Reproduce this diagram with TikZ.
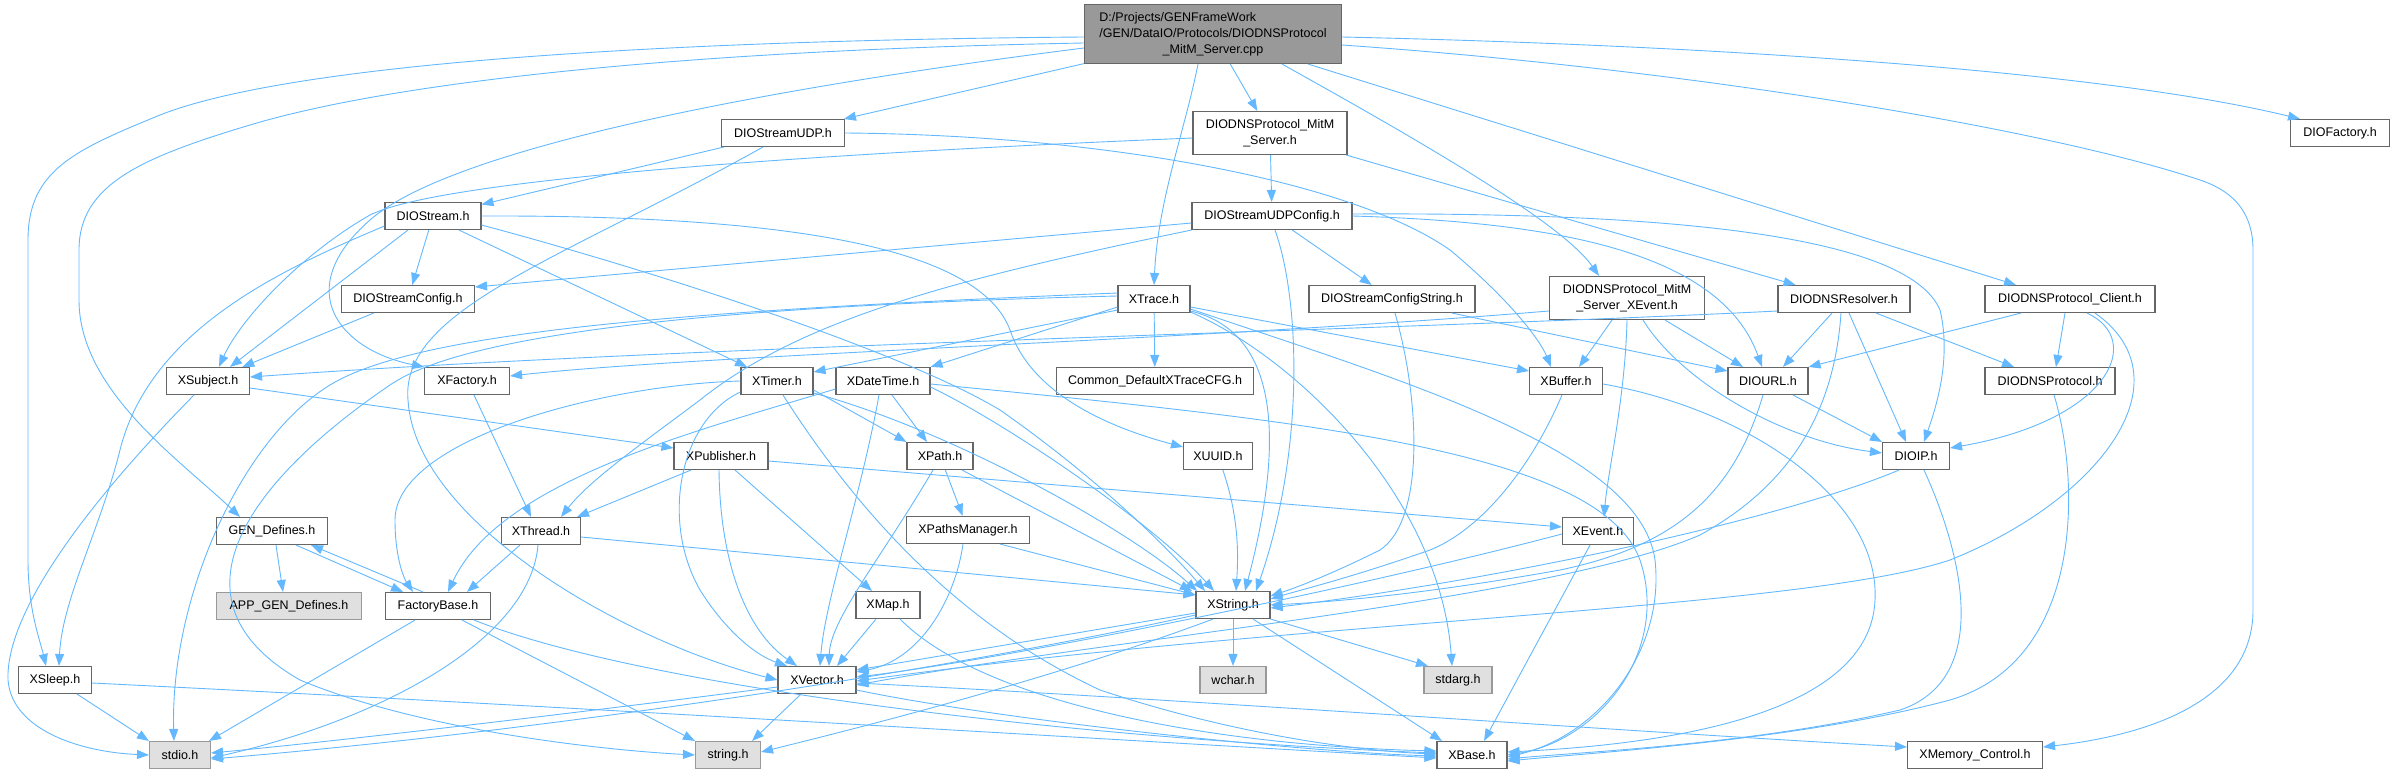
\documentclass[tikz,border=0pt]{standalone}
\usepackage{fontspec}
\setmainfont{Liberation Sans}
\usetikzlibrary{arrows.meta}
\definecolor{edgec}{HTML}{63B8FF}
\definecolor{nodeb}{HTML}{666666}
\definecolor{extb}{HTML}{999999}
\definecolor{extf}{HTML}{E0E0E0}
\definecolor{mainf}{HTML}{999999}
\tikzset{
 nb/.style={draw=nodeb, fill=white, line width=1.1pt, inner sep=0pt, minimum height=27pt, font=\fontsize{12.5}{16}\selectfont, align=center},
 gb/.style={nb, draw=extb, fill=extf},
 mb/.style={nb, fill=mainf},
 e/.style={draw=edgec, line width=0.9pt, -{Triangle[length=12pt,width=9pt]}},
}
\begin{document}
\begin{tikzpicture}[x=1pt,y=-1pt]
\useasboundingbox (0,0) rectangle (2395,773);
% nodes
\node[mb, minimum width=257pt, minimum height=59pt] (main) at (1213,34) {\begin{tabular}{@{}l@{}}D:/Projects/GENFrameWork\\/GEN/DataIO/Protocols/DIODNSProtocol\\\multicolumn{1}{@{}c@{}}{\_MitM\_Server.cpp}\end{tabular}};
\node[nb, minimum width=123pt] (dudp) at (783,133) {DIOStreamUDP.h};
\node[nb, minimum width=154pt, minimum height=43pt] (msrv) at (1270,133) {DIODNSProtocol\_MitM\\\_Server.h};
\node[nb, minimum width=99pt] (dfac) at (2340,133) {DIOFactory.h};
\node[nb, minimum width=96pt] (dstream) at (433,216) {DIOStream.h};
\node[nb, minimum width=160pt] (udpcfg) at (1272,216) {DIOStreamUDPConfig.h};
\node[nb, minimum width=133pt] (dscfg) at (408,299) {DIOStreamConfig.h};
\node[nb, minimum width=72pt] (xtrace) at (1154,299) {XTrace.h};
\node[nb, minimum width=166pt] (dscs) at (1392,299) {DIOStreamConfigString.h};
\node[nb, minimum width=155pt, minimum height=43pt] (sxev) at (1627,298) {DIODNSProtocol\_MitM\\\_Server\_XEvent.h};
\node[nb, minimum width=132pt] (dres) at (1844,299) {DIODNSResolver.h};
\node[nb, minimum width=170pt] (dcli) at (2070,299) {DIODNSProtocol\_Client.h};
\node[nb, minimum width=83pt] (xsub) at (208,381) {XSubject.h};
\node[nb, minimum width=85pt] (xfac) at (467,381) {XFactory.h};
\node[nb, minimum width=72pt] (xtimer) at (777,381) {XTimer.h};
\node[nb, minimum width=94pt] (xdt) at (883,381) {XDateTime.h};
\node[nb, minimum width=197pt] (cdx) at (1155,381) {Common\_DefaultXTraceCFG.h};
\node[nb, minimum width=73pt] (xbuf) at (1566,381) {XBuffer.h};
\node[nb, minimum width=80pt] (durl) at (1768,381) {DIOURL.h};
\node[nb, minimum width=130pt] (dproto) at (2050,381) {DIODNSProtocol.h};
\node[nb, minimum width=94pt] (xpub) at (721,456) {XPublisher.h};
\node[nb, minimum width=66pt] (xpath) at (940,456) {XPath.h};
\node[nb, minimum width=69pt] (xuuid) at (1218,456) {XUUID.h};
\node[nb, minimum width=67pt] (dip) at (1916,456) {DIOIP.h};
\node[nb, minimum width=111pt] (gend) at (272,531) {GEN\_Defines.h};
\node[nb, minimum width=79pt] (xthr) at (541,531) {XThread.h};
\node[nb, minimum width=123pt] (xpm) at (968,530) {XPathsManager.h};
\node[nb, minimum width=71pt] (xev) at (1598,531) {XEvent.h};
\node[gb, minimum width=145pt] (appgen) at (289,606) {APP\_GEN\_Defines.h};
\node[nb, minimum width=105pt] (fbase) at (438,606) {FactoryBase.h};
\node[nb, minimum width=64pt] (xmap) at (888,605) {XMap.h};
\node[nb, minimum width=74pt] (xstr) at (1233,605) {XString.h};
\node[nb, minimum width=73pt] (xsleep) at (55,680) {XSleep.h};
\node[nb, minimum width=78pt] (xvec) at (817,680) {XVector.h};
\node[gb, minimum width=66pt] (wchar) at (1233,680) {wchar.h};
\node[gb, minimum width=68pt] (stdarg) at (1458,680) {stdarg.h};
\node[gb, minimum width=61pt] (stdio) at (180,755) {stdio.h};
\node[gb, minimum width=65pt] (stringh) at (728,755) {string.h};
\node[nb, minimum width=70pt] (xbase) at (1472,755) {XBase.h};
\node[nb, minimum width=135pt] (xmem) at (1975,755) {XMemory\_Control.h};
% main
\draw[e] ([yshift=-3pt]main.west) .. controls (700,40) and (300,60) .. (160,115) .. controls (75,150) and (28,170) .. (28,240) -- (28,560) .. controls (28,610) and (40,640) .. ([xshift=-9pt]xsleep.north);
\draw[e] ([yshift=-9pt]main.west) .. controls (700,50) and (400,80) .. (250,125) .. controls (140,158) and (79,185) .. (79,250) -- (79,300) .. controls (79,390) and (180,460) .. ([xshift=-32pt]gend.north);
\draw[e] ([yshift=-14pt]main.west) .. controls (750,90) and (450,150) .. (370,220) .. controls (290,290) and (340,350) .. (xfac.north west);
\draw[e] (main) -- (dudp);
\draw[e] (main) -- (msrv);
\draw[e] ([xshift=-15pt]main.south) .. controls (1185,130) and (1158,200) .. (xtrace.north);
\draw[e] ([xshift=69pt]main.south) .. controls (1400,130) and (1560,220) .. ([xshift=-28pt]sxev.north);
\draw[e] ([xshift=95pt]main.south) -- ([xshift=-54pt]dcli.north);
\draw[e] ([yshift=-3pt]main.east) .. controls (1700,45) and (2100,70) .. ([xshift=-40pt]dfac.north);
\draw[e] ([yshift=-11pt]main.east) .. controls (1700,70) and (2050,130) .. (2200,180) .. controls (2236,192) and (2253,215) .. (2253,250) -- (2253,610) .. controls (2253,700) and (2150,735) .. ([yshift=8pt]xmem.east);
% dudp
\draw[e] (dudp) -- (dstream);
\draw[e] ([xshift=-20pt]dudp.south) .. controls (560,260) and (400,310) .. (408,400) .. controls (415,520) and (620,640) .. (xvec.west);
\draw[e] (dudp.east) .. controls (1100,135) and (1350,180) .. (1450,250) .. controls (1510,300) and (1540,340) .. ([xshift=-15pt]xbuf.north);
% msrv
\draw[e] (msrv) -- (udpcfg);
\draw[e] (msrv) -- (dres);
\draw[e] ([yshift=-5pt]msrv.west) .. controls (900,150) and (450,175) .. (370,215) .. controls (300,255) and (240,320) .. ([xshift=11pt]xsub.north);
% udpcfg
\draw[e] ([yshift=-7pt]udpcfg.west) -- ([yshift=12pt]dscfg.east);
\draw[e] (udpcfg.south west) .. controls (950,280) and (800,320) .. (700,400) .. controls (640,445) and (590,480) .. ([xshift=20pt]xthr.north);
\draw[e] (udpcfg) -- (dscs);
\draw[e] ([xshift=3pt]udpcfg.south) .. controls (1300,300) and (1305,450) .. ([xshift=23pt]xstr.north);
\draw[e] (udpcfg.east) .. controls (1550,222) and (1720,250) .. ([xshift=-6pt]durl.north);
\draw[e] ([yshift=2pt]udpcfg.east) .. controls (1700,212) and (1910,240) .. (1940,310) .. controls (1952,360) and (1935,410) .. ([xshift=8pt]dip.north);
% dstream
\draw[e] ([yshift=-10pt]dstream.west) .. controls (280,270) and (150,330) .. (120,450) .. controls (100,530) and (62,600) .. ([xshift=4pt]xsleep.north);
\draw[e] ([xshift=-25pt]dstream.south) -- ([xshift=22pt]xsub.north);
\draw[e] (dstream) -- (dscfg);
\draw[e] ([xshift=26pt]dstream.south) -- ([xshift=-30pt]xtimer.north);
\draw[e] (dstream.east) .. controls (800,215) and (980,250) .. (1010,330) .. controls (1030,390) and (1100,425) .. ([yshift=9pt]xuuid.west);
\draw[e] ([yshift=-9pt]dstream.east) .. controls (650,270) and (900,350) .. (1000,410) .. controls (1100,480) and (1170,550) .. ([xshift=-28pt]xstr.north);
% dscfg
\draw[e] (dscfg) -- (xsub);
% xtrace
\draw[e] ([yshift=-8pt]xtrace.west) -- (xdt.north east);
\draw[e] ([yshift=-11pt]xtrace.west) -- ([yshift=9pt]xtimer.east);
\draw[e] (xtrace) -- (cdx);
\draw[e] ([yshift=-8pt]xtrace.east) -- ([yshift=10pt]xbuf.west);
\draw[e] ([yshift=-12pt]xtrace.east) .. controls (1270,330) and (1290,420) .. ([xshift=12pt]xstr.north);
\draw[e] ([yshift=-13pt]xtrace.east) .. controls (1300,360) and (1440,500) .. ([xshift=-6pt]stdarg.north);
\draw[e] ([yshift=-10pt]xtrace.east) .. controls (1400,380) and (1640,450) .. (1655,560) .. controls (1665,650) and (1600,735) .. ([yshift=-2pt]xbase.east);
\draw[e] ([yshift=6pt]xtrace.west) .. controls (700,310) and (420,330) .. (330,385) .. controls (240,440) and (170,600) .. ([xshift=-6pt]stdio.north);
\draw[e] ([yshift=3pt]xtrace.west) .. controls (750,305) and (470,330) .. (390,385) .. controls (250,480) and (160,600) .. (300,680) .. controls (420,730) and (600,750) .. (stringh.west);
% xtimer
\draw[e] ([yshift=-9pt]xtimer.east) -- (xpath.north west);
\draw[e] ([yshift=-12pt]xtimer.east) .. controls (950,430) and (1130,530) .. ([xshift=-36pt]xstr.north);
\draw[e] ([xshift=6pt]xtimer.south) .. controls (850,500) and (950,620) .. (1100,690) .. controls (1250,740) and (1380,752) .. ([yshift=1pt]xbase.west);
\draw[e] ([yshift=-11pt]xtimer.west) .. controls (680,420) and (660,520) .. (700,590) .. controls (725,630) and (755,655) .. ([xshift=-30pt]xvec.north);
\draw[e] (xtimer.west) .. controls (600,385) and (395,440) .. (395,520) .. controls (395,560) and (405,580) .. ([xshift=-25pt]fbase.north);
% xdt
\draw[e] ([xshift=9pt]xdt.south) -- ([xshift=-13pt]xpath.north);
\draw[e] ([xshift=-4pt]xdt.south) .. controls (860,500) and (825,600) .. ([xshift=3pt]xvec.north);
\draw[e] ([yshift=-6pt]xdt.east) .. controls (1000,420) and (1150,520) .. ([xshift=-19pt]xstr.north);
\draw[e] ([yshift=-3pt]xdt.east) .. controls (1300,420) and (1600,450) .. (1640,560) .. controls (1670,650) and (1600,740) .. (xbase.east);
\draw[e] ([yshift=-8pt]xdt.west) .. controls (700,430) and (500,480) .. ([xshift=10pt]fbase.north);
% xpub
\draw[e] ([xshift=-30pt]xpub.south) -- ([xshift=36pt]xthr.north);
\draw[e] ([xshift=-2pt]xpub.south) .. controls (720,560) and (745,630) .. ([xshift=-20pt]xvec.north);
\draw[e] ([xshift=14pt]xpub.south) -- ([xshift=-16pt]xmap.north);
\draw[e] ([yshift=-5pt]xpub.east) -- ([yshift=4pt]xev.west);
% xpath
\draw[e] ([xshift=-7pt]xpath.south) .. controls (880,560) and (830,620) .. ([xshift=12pt]xvec.north);
\draw[e] (xpath) -- (xpm);
\draw[e] ([xshift=22pt]xpath.south) -- ([xshift=-41pt]xstr.north);
% xpm
\draw[e] ([xshift=32pt]xpm.south) -- ([yshift=-4pt]xstr.north west);
\draw[e] ([xshift=-5pt]xpm.south) .. controls (955,600) and (920,660) .. ([yshift=8pt]xvec.east);
% xmap
\draw[e] ([xshift=-12pt]xmap.south) -- ([xshift=20pt]xvec.north);
\draw[e] ([xshift=12pt]xmap.south) .. controls (980,700) and (1200,745) .. ([yshift=4pt]xbase.west);
% xuuid
\draw[e] (xuuid) .. controls (1240,520) and (1238,560) .. ([xshift=3pt]xstr.north);
% dscs
\draw[e] ([xshift=3pt]dscs.south) .. controls (1420,400) and (1425,520) .. (1380,550) .. controls (1330,575) and (1295,588) .. ([yshift=9pt]xstr.east);
\draw[e] ([xshift=60pt]dscs.south) -- ([yshift=10pt]durl.west);
% sxev
\draw[e] ([xshift=-15pt]sxev.south) -- ([xshift=13pt]xbuf.north);
\draw[e] (sxev.south) .. controls (1625,400) and (1608,470) .. ([xshift=6pt]xev.north);
\draw[e] ([xshift=16pt]sxev.south) .. controls (1680,380) and (1780,440) .. ([yshift=3pt]dip.west);
\draw[e] ([xshift=38pt]sxev.south) -- ([xshift=-25pt]durl.north);
\draw[e] ([yshift=-13pt]sxev.west) .. controls (1200,340) and (700,355) .. ([yshift=5pt]xfac.east);
% dres
\draw[e] ([yshift=-12pt]dres.west) .. controls (1400,330) and (700,345) .. ([yshift=4pt]xsub.east);
\draw[e] ([xshift=-12pt]dres.south) -- ([xshift=15pt]durl.north);
\draw[e] ([xshift=5pt]dres.south) -- ([xshift=-10pt]dip.north);
\draw[e] ([xshift=32pt]dres.south) -- ([xshift=-36pt]dproto.north);
\draw[e] ([xshift=-3pt]dres.south) .. controls (1835,400) and (1800,480) .. (1700,535) .. controls (1550,600) and (1100,640) .. ([yshift=-5pt]xvec.east);
% durl
\draw[e] ([xshift=25pt]durl.south) -- (dip.north west);
\draw[e] ([xshift=-5pt]durl.south) .. controls (1735,490) and (1680,545) .. (1560,570) .. controls (1420,595) and (1330,602) .. (xstr.east);
% dip
\draw[e] ([xshift=-17pt]dip.south) .. controls (1780,520) and (1500,580) .. ([yshift=-3pt]xstr.east);
\draw[e] ([xshift=8pt]dip.south) .. controls (1965,560) and (1990,680) .. (1900,710) .. controls (1750,745) and (1580,752) .. ([yshift=-4pt]xbase.east);
% dcli
\draw[e] ([xshift=-49pt]dcli.south) -- (durl.north east);
\draw[e] ([xshift=-5pt]dcli.south) -- ([xshift=6pt]dproto.north);
\draw[e] ([xshift=17pt]dcli.south) .. controls (2145,340) and (2110,420) .. ([yshift=8pt]dip.east);
\draw[e] ([xshift=25pt]dcli.south) .. controls (2190,380) and (2100,500) .. (1950,560) .. controls (1800,610) and (1300,620) .. ([yshift=-1pt]xvec.east);
% dproto
\draw[e] ([xshift=4pt]dproto.south) .. controls (2080,480) and (2085,660) .. (1950,700) .. controls (1800,740) and (1600,752) .. ([yshift=-6pt]xbase.east);
% xbuf
\draw[e] ([xshift=-4pt]xbuf.south) .. controls (1530,470) and (1480,530) .. (1430,550) .. controls (1350,578) and (1300,590) .. ([yshift=6pt]xstr.east);
\draw[e] ([yshift=-3pt]xbuf.east) .. controls (1750,410) and (1880,500) .. (1875,600) .. controls (1870,720) and (1650,745) .. ([yshift=3pt]xbase.east);
% xev
\draw[e] ([yshift=-3pt]xev.west) .. controls (1350,590) and (1000,660) .. ([yshift=3pt]xvec.east);
\draw[e] ([xshift=-8pt]xev.south) -- ([xshift=12pt]xbase.north);
% xsub
\draw[e] ([xshift=-14pt]xsub.south) .. controls (120,470) and (5,600) .. (8,680) .. controls (12,730) and (80,752) .. (stdio.west);
\draw[e] ([yshift=-7pt]xsub.east) -- ([yshift=8pt]xpub.west);
% xfac
\draw[e] ([xshift=7pt]xfac.south) -- ([xshift=-10pt]xthr.north);
% gend / fbase
\draw[e] ([xshift=4pt]gend.south) -- ([xshift=-6pt]appgen.north);
\draw[e] ([xshift=24pt]gend.south) -- ([xshift=-35pt]fbase.north);
\draw[e] ([xshift=-15pt]fbase.north) -- ([xshift=39pt]gend.south);
% xthr
\draw[e] ([xshift=-21pt]xthr.south) -- ([xshift=29pt]fbase.north);
\draw[e] ([xshift=-3pt]xthr.south) .. controls (530,640) and (380,720) .. ([yshift=-3pt]stdio.east);
\draw[e] ([yshift=-6pt]xthr.east) -- ([yshift=10pt]xstr.west);
% fbase
\draw[e] ([xshift=-23pt]fbase.south) -- ([xshift=29pt]stdio.north);
\draw[e] ([xshift=24pt]fbase.south) -- (stringh.north west);
\draw[e] ([xshift=36pt]fbase.south) .. controls (650,690) and (1100,740) .. ([yshift=2pt]xbase.west);
% xsleep
\draw[e] ([xshift=22pt]xsleep.south) -- (stdio.north west);
\draw[e] ([yshift=-3pt]xsleep.east) .. controls (600,708) and (1200,745) .. ([yshift=-3pt]xbase.west);
% xvec
\draw[e] ([yshift=-7pt]xvec.west) .. controls (600,710) and (350,740) .. ([yshift=2pt]stdio.east);
\draw[e] ([xshift=-16pt]xvec.south) -- ([xshift=24pt]stringh.north);
\draw[e] ([yshift=-10pt]xvec.east) .. controls (1000,720) and (1300,752) .. ([yshift=-1pt]xbase.west);
\draw[e] ([yshift=-3pt]xvec.east) .. controls (1200,700) and (1600,730) .. ([yshift=8pt]xmem.west);
% xstr
\draw[e] ([yshift=-8pt]xstr.west) -- ([yshift=10pt]xvec.east);
\draw[e] ([yshift=-10pt]xstr.west) .. controls (900,680) and (500,735) .. ([yshift=-4pt]stdio.east);
\draw[e] ([xshift=-20pt]xstr.south) .. controls (1050,680) and (850,730) .. ([yshift=3pt]stringh.east);
\draw[e] (xstr) -- (wchar);
\draw[e] (xstr.south east) -- ([xshift=-30pt]stdarg.north);
\draw[e] ([xshift=20pt]xstr.south) -- ([xshift=-30pt]xbase.north);
\end{tikzpicture}
\end{document}
